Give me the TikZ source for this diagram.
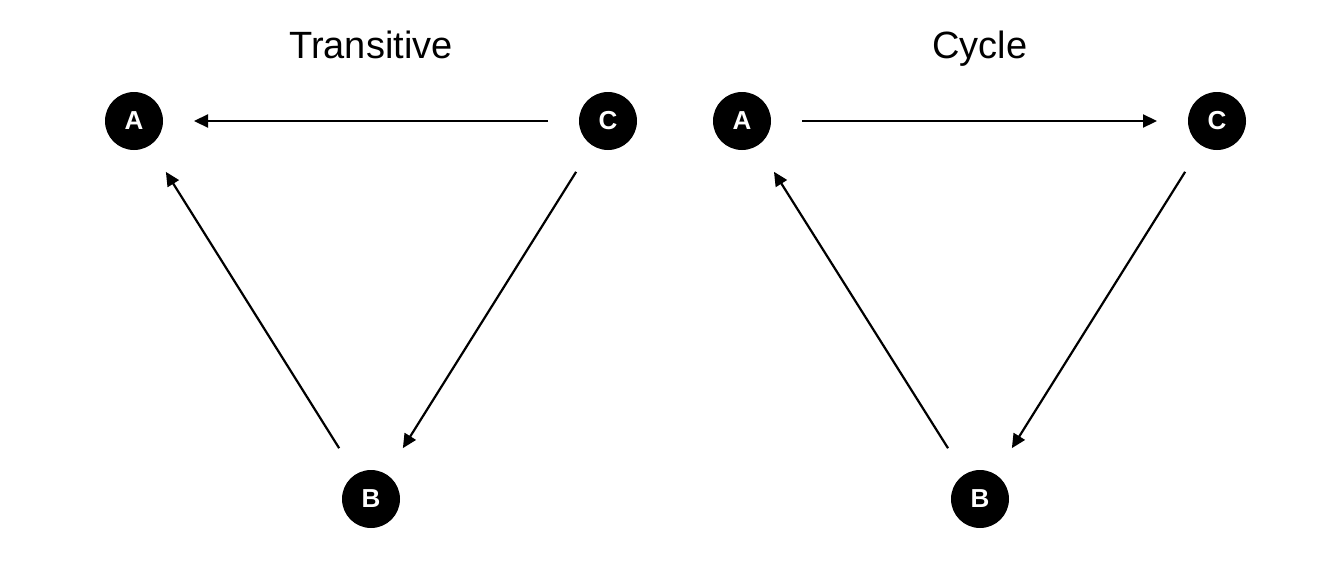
\documentclass[tikz,border=0pt]{standalone}
\usepackage{fontspec}
\setmainfont{Liberation Sans}
\usetikzlibrary{arrows.meta}
\tikzstyle{vertex} = [circle, fill=black, draw=none, minimum size=58pt, inner sep=0pt, outer sep=0pt, text=white, font=\bfseries\fontsize{26}{28}\selectfont]
\tikzstyle{heading} = [anchor=base, font=\fontsize{38}{44}\selectfont, text=black]
\tikzstyle{edge} = [line width=2.2pt, -{Triangle[length=14pt,width=13pt]}, shorten >=31pt, shorten <=31pt]

\begin{document}
\begin{tikzpicture}[x=1pt,y=-1pt]
\useasboundingbox (0,0) rectangle (1344,576);
% transitive triad
\node (t) [heading] at (371,58) {Transitive};
\node (ta) [vertex] at (134,121) {A};
\node (tc) [vertex] at (608,121) {C};
\node (tb) [vertex] at (371,499) {B};
\draw [edge] (tc) -- (ta);
\draw [edge] (tc) -- (tb);
\draw [edge] (tb) -- (ta);
% cyclic triad
\node (c) [heading] at (980,58) {Cycle};
\node (ca) [vertex] at (742,121) {A};
\node (cc) [vertex] at (1217,121) {C};
\node (cb) [vertex] at (980,499) {B};
\draw [edge] (ca) -- (cc);
\draw [edge] (cc) -- (cb);
\draw [edge] (cb) -- (ca);
\end{tikzpicture}
\end{document}
